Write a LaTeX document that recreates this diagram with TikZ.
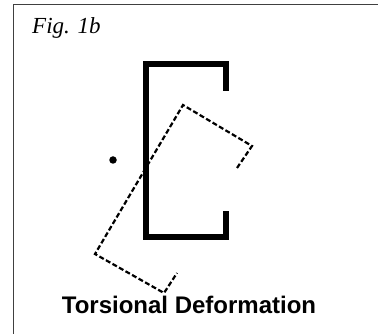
\documentclass[tikz,border=0pt]{standalone}
\usepackage{fontspec}
\setmainfont{Liberation Serif}
\setsansfont{Liberation Sans}
\usepackage{tikz}
\usetikzlibrary{positioning}
\begin{document}
\begin{tikzpicture}[
  x=1pt, y=-1pt,
  border/.style={draw=black!75, line width=1pt},
  section/.style={line width=5.5pt, draw=black, line join=miter},
  twisted/.style={line width=2.2pt, draw=black, dash pattern=on 5pt off 2.5pt}
]
\useasboundingbox (0,0) rectangle (378,334);
% frame runs off the page
\coordinate (f1) at (13.5,334);
\coordinate (f2) at (13.5,4.5);
\coordinate (f3) at (378,4.5);
\draw[border] (f1) -- (f2) -- (f3);
\node[font=\itshape\fontsize{23}{26}\selectfont, anchor=base west, inner sep=0pt] (figlabel) at (32,34) {Fig. 1b};
\node[font=\sffamily\bfseries\fontsize{24}{26}\selectfont, anchor=base, inner sep=0pt] (caption) at (189,313) {Torsional Deformation};
\node[circle, fill=black, inner sep=0pt, minimum size=7.5pt] (shear) at (113,160) {};
% channel section
\coordinate (s1) at (226,91);
\coordinate (s2) at (226,64);
\coordinate (s3) at (146,64);
\coordinate (s4) at (146,237);
\coordinate (s5) at (226,237);
\coordinate (s6) at (226,211);
\draw[section] (s1) -- (s2) -- (s3) -- (s4) -- (s5) -- (s6);
% rotated section
\coordinate (t1) at (237,168);
\coordinate (t2) at (252,146);
\coordinate (t3) at (183,105);
\coordinate (t4) at (95,254);
\coordinate (t5) at (164,293);
\coordinate (t6) at (177,273);
\draw[twisted] (t1) -- (t2) -- (t3) -- (t4) -- (t5) -- (t6);
\end{tikzpicture}
\end{document}
